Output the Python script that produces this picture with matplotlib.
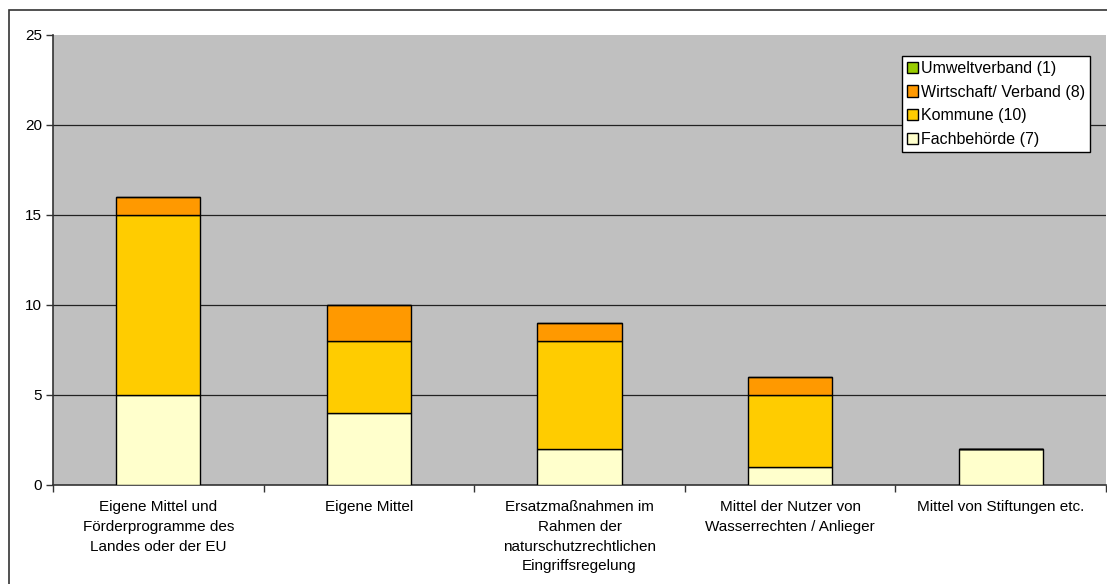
import matplotlib
matplotlib.use("Agg")
import matplotlib.pyplot as plt
from matplotlib.patches import Rectangle
import numpy as np

plt.rcParams['font.family'] = ['Liberation Sans', 'DejaVu Sans']

categories = [
    "Eigene Mittel und\nFörderprogramme des\nLandes oder der EU",
    "Eigene Mittel",
    "Ersatzmaßnahmen im\nRahmen der\nnaturschutzrechtlichen\nEingriffsregelung",
    "Mittel der Nutzer von\nWasserrechten / Anlieger",
    "Mittel von Stiftungen etc.",
]
fachbehoerde = [5, 4, 2, 1, 2]
kommune = [10, 4, 6, 4, 0]
wirtschaft = [1, 2, 1, 1, 0]
umweltverband = [0, 0, 0, 0, 0]

series = [
    ("Fachbehörde (7)", fachbehoerde, "#FFFFCC"),
    ("Kommune (10)", kommune, "#FFCC00"),
    ("Wirtschaft/ Verband (8)", wirtschaft, "#FF9900"),
    ("Umweltverband (1)", umweltverband, "#99CC00"),
]
y_ticks = [0, 5, 10, 15, 20, 25]

fig = plt.figure(figsize=(11.07, 5.84), dpi=100)
fig.patch.set_facecolor("white")
# chart frame
fig.add_artist(Rectangle((9 / 1107, -0.1), 1.2, (584 - 10) / 584 + 0.1,
                         transform=fig.transFigure, fill=False,
                         edgecolor="#333333", linewidth=1.2))

ax = fig.add_axes([53 / 1107, 99 / 584, 1053 / 1107, 450 / 584])
ax.set_facecolor("#C0C0C0")

x = np.arange(len(categories))
bottom = np.zeros(len(categories))
handles = {}
for label, vals, color in series:
    vals = np.array(vals, dtype=float)
    bars = ax.bar(x, vals, width=0.4, bottom=bottom, color=color,
                  edgecolor="black", linewidth=1.0, label=label, zorder=3)
    handles[label] = bars
    bottom += vals

for yv in y_ticks[1:-1]:
    ax.axhline(yv, color="#222222", linewidth=0.9, zorder=1)

ax.set_xlim(-0.5, len(categories) - 0.5)
ax.set_ylim(0, 25)
ax.set_yticks(y_ticks)
ax.tick_params(axis="y", direction="out", length=5, width=1, labelsize=11,
               colors="#333333", labelcolor="black", pad=3)
ax.set_xticks(x)
ax.set_xticklabels(categories, fontsize=11, linespacing=1.52, va="top")
ax.tick_params(axis="x", which="major", length=0, pad=11)
ax.set_xticks(np.arange(len(categories) + 1) - 0.5, minor=True)
ax.tick_params(axis="x", which="minor", direction="out", length=5, width=1,
               colors="#333333")

for side in ("top", "right"):
    ax.spines[side].set_visible(False)
for side in ("left", "bottom"):
    ax.spines[side].set_color("#333333")
    ax.spines[side].set_linewidth(1.2)

order = ["Umweltverband (1)", "Wirtschaft/ Verband (8)", "Kommune (10)", "Fachbehörde (7)"]
leg = ax.legend([handles[k] for k in order], order, loc="upper right",
                bbox_to_anchor=(0.9848, 0.9533), borderaxespad=0, fontsize=11.5,
                fancybox=False, framealpha=1, edgecolor="black",
                handlelength=0.7, handleheight=0.7, handletextpad=0.2,
                labelspacing=0.55, borderpad=0.3)
leg.get_frame().set_linewidth(1.0)
leg.set_zorder(5)

fig.savefig("out.png", dpi=100)
